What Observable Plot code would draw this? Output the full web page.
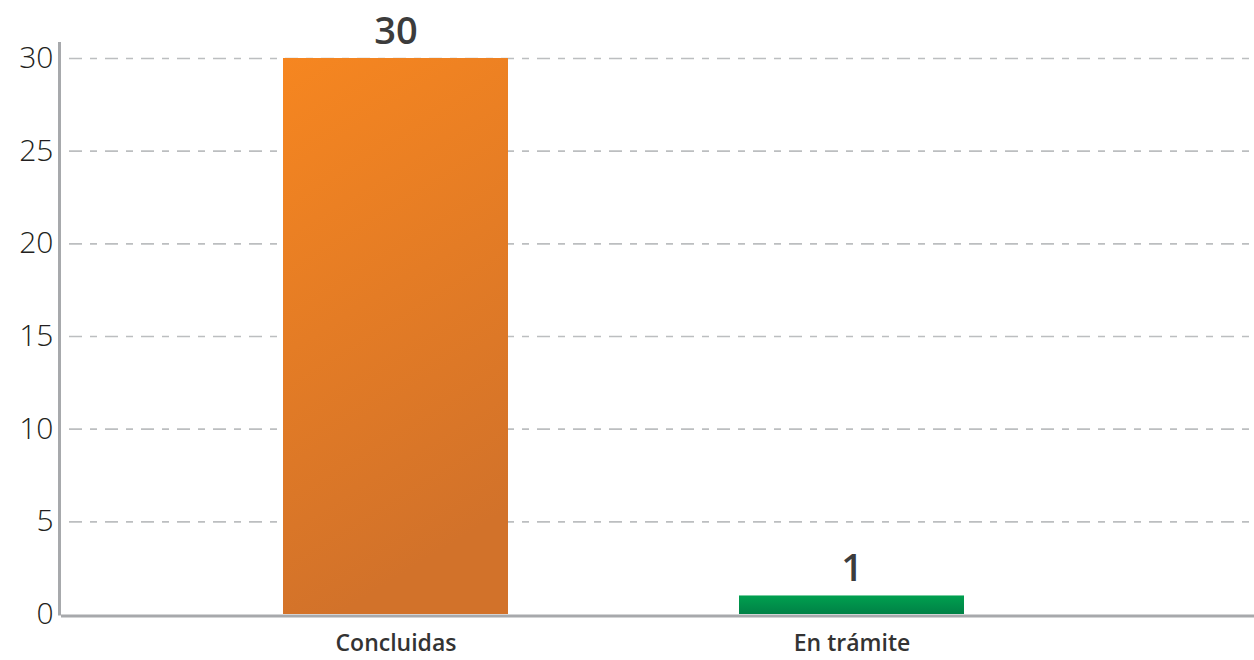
<!DOCTYPE html>
<html>
<head>
<meta charset="utf-8">
<script src="https://cdn.jsdelivr.net/npm/d3@7"></script>
<script src="https://cdn.jsdelivr.net/npm/@observablehq/plot@0.6"></script>
<style>
  html, body { margin: 0; padding: 0; background: #fff; }
  svg { font-family: "Open Sans", Lato, sans-serif; }
</style>
</head>
<body>
<div id="chart"></div>
<script>
const categories = ["Concluidas", "En trámite"];
const values = [30, 1];
const yTicks = [0, 5, 10, 15, 20, 25, 30];
const fills = ["url(#gradOrange)", "url(#gradGreen)"];

const data = categories.map((c, i) => ({cat: c, value: values[i], fill: fills[i]}));

const defsMark = () => {
  const svg = d3.create("svg:defs");
  const g1 = svg.append("linearGradient").attr("id", "gradOrange")
    .attr("x1", "0").attr("y1", "0").attr("x2", "0.25").attr("y2", "1");
  g1.append("stop").attr("offset", "0%").attr("stop-color", "#f68620");
  g1.append("stop").attr("offset", "100%").attr("stop-color", "#d2722a");
  const g2 = svg.append("linearGradient").attr("id", "gradGreen")
    .attr("x1", "0").attr("y1", "0").attr("x2", "0").attr("y2", "1");
  g2.append("stop").attr("offset", "0%").attr("stop-color", "#00a04f");
  g2.append("stop").attr("offset", "100%").attr("stop-color", "#008146");
  return svg.node();
};

const leftLine = (index, scales, values, dims) => {
  const x = dims.marginLeft - 1.5;
  return d3.create("svg:line")
    .attr("x1", x).attr("x2", x)
    .attr("y1", scales.y(30) - 16).attr("y2", dims.height - dims.marginBottom + 1.5)
    .attr("stroke", "#a7a9ac").attr("stroke-width", 3).node();
};

const chart = Plot.plot({
  width: 1254,
  height: 660,
  marginLeft: 61,
  marginRight: 0,
  marginTop: 58,
  marginBottom: 46,
  x: {domain: categories, range: [283, 964], paddingInner: 0.507, paddingOuter: 0, label: null},
  y: {domain: [0, 30], label: null},
  marks: [
    defsMark,
    Plot.ruleY(yTicks.filter(d => d > 0), {stroke: "#bcbec0", strokeWidth: 1.6, strokeDasharray: "13,8,7,8", strokeDashoffset: -8}),
    Plot.barY(data, {x: "cat", y: "value", fill: "fill"}),
    Plot.text(data, {x: "cat", y: "value", text: d => String(d.value), dy: -27, fontSize: 38, fontWeight: 600, fill: "#3c3c3c"}),
    Plot.ruleY([0], {stroke: "#a7a9ac", strokeWidth: 3, dy: 1.5}),
    leftLine,
    Plot.axisY({ticks: yTicks, tickSize: 0, tickPadding: 8, fontSize: 30, fontWeight: 300, fill: "#231f20", tickFormat: d => String(d)}),
    Plot.axisX({tickSize: 0, tickPadding: 20, fontSize: 23, fontWeight: 600, fill: "#333", style: "letter-spacing: 0.5px"})
  ]
});
document.getElementById("chart").appendChild(chart);
</script>
</body>
</html>
